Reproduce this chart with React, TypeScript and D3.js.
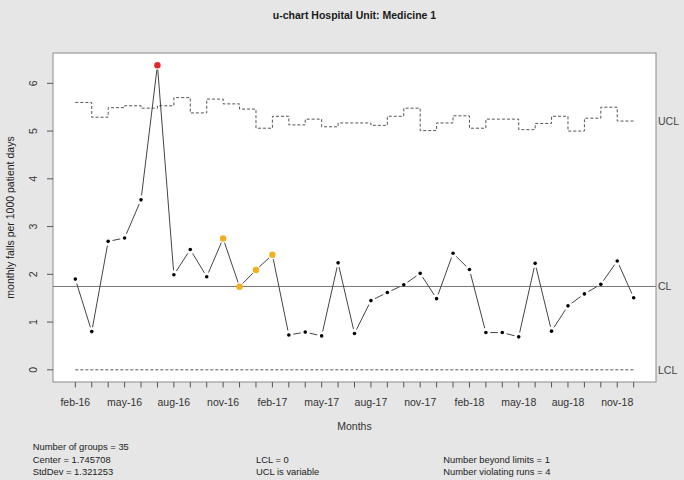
import React from "react";
import * as d3 from "d3";

const months = [
  "feb-16","mar-16","apr-16","may-16","jun-16","jul-16","aug-16","sep-16","oct-16","nov-16","dec-16",
  "jan-17","feb-17","mar-17","apr-17","may-17","jun-17","jul-17","aug-17","sep-17","oct-17","nov-17","dec-17",
  "jan-18","feb-18","mar-18","apr-18","may-18","jun-18","jul-18","aug-18","sep-18","oct-18","nov-18","dec-18",
];
const values = [
  1.90, 0.80, 2.69, 2.76, 3.56, 6.38, 1.99, 2.52, 1.95, 2.75, 1.74,
  2.09, 2.41, 0.73, 0.79, 0.71, 2.24, 0.76, 1.45, 1.62, 1.78, 2.02, 1.49,
  2.44, 2.10, 0.78, 0.78, 0.69, 2.23, 0.81, 1.34, 1.59, 1.79, 2.28, 1.51,
];
const ucl = [
  5.60, 5.29, 5.49, 5.53, 5.48, 5.53, 5.70, 5.38, 5.67, 5.57, 5.46,
  5.06, 5.31, 5.13, 5.25, 5.09, 5.17, 5.17, 5.12, 5.31, 5.48, 5.01, 5.17,
  5.32, 5.06, 5.25, 5.25, 5.03, 5.16, 5.31, 5.00, 5.27, 5.50, 5.21, 5.21,
];
// 0 = normal, 1 = beyond limits, 2 = violating run
const status = [
  0, 0, 0, 0, 0, 1, 0, 0, 0, 2, 2,
  2, 2, 0, 0, 0, 0, 0, 0, 0, 0, 0, 0,
  0, 0, 0, 0, 0, 0, 0, 0, 0, 0, 0, 0,
];
const center = 1.745708;
const lcl = 0;
const yTicks = [0, 1, 2, 3, 4, 5, 6];
const statsLeft = ["Number of groups = 35", "Center = 1.745708", "StdDev = 1.321253"];
const statsMid = ["LCL = 0", "UCL is variable"];
const statsRight = ["Number beyond limits = 1", "Number violating runs = 4"];

const W = 684, H = 480;
const L = 53, R = 656, T = 53, B = 382;
const FONT = "Liberation Sans, Arial, sans-serif";

export default function App() {
  const n = values.length;
  const idx = d3.range(1, n + 1);
  const xPad = 0.04 * (n - 1);
  const x = d3.scaleLinear().domain([1 - xPad, n + xPad]).range([L, R]);
  const yMax = d3.max(values)!;
  const yPad = 0.04 * (yMax - lcl);
  const y = d3.scaleLinear().domain([lcl - yPad, yMax + yPad]).range([B, T]);

  const uclLine = d3
    .line<number>()
    .x((_, i) => x(idx[i]))
    .y((d) => y(d))
    .curve(d3.curveStepAfter)(ucl)!;

  const gap = 4.5;
  const segs: { x1: number; y1: number; x2: number; y2: number }[] = [];
  for (let i = 0; i < n - 1; i++) {
    const ax = x(idx[i]), ay = y(values[i]);
    const bx = x(idx[i + 1]), by = y(values[i + 1]);
    const len = Math.hypot(bx - ax, by - ay);
    if (len <= 2 * gap) continue;
    const ux = (bx - ax) / len, uy = (by - ay) / len;
    segs.push({ x1: ax + ux * gap, y1: ay + uy * gap, x2: bx - ux * gap, y2: by - uy * gap });
  }

  const colorFor = (s: number) => (s === 1 ? "#e3262a" : s === 2 ? "#f2b01f" : "#000");
  const rFor = (s: number) => (s === 0 ? 1.8 : 3.2);

  const statY = [446.7, 459.3, 471.7];

  return (
    <svg width={W} height={H} style={{ position: "absolute", left: 0, top: 0 }} fontFamily={FONT}>
      <rect x={0} y={0} width={W} height={H} fill="#e6e6e6" />
      <rect x={L} y={T} width={R - L} height={B - T} fill="#fff" stroke="#8a8a8a" strokeWidth={1} />

      <text x={(L + R) / 2} y={15} textAnchor="middle" dominantBaseline="central" fontWeight="bold" fontSize={10.5} fill="#1a1a1a">
        u-chart Hospital Unit: Medicine 1
      </text>

      {/* y axis */}
      {yTicks.map((t) => (
        <g key={t}>
          <line x1={L - 6} x2={L} y1={y(t)} y2={y(t)} stroke="#555" />
          <text
            transform={`translate(${33},${y(t)}) rotate(-90)`}
            textAnchor="middle"
            dominantBaseline="central"
            fontSize={10.5}
            fill="#333"
          >
            {t}
          </text>
        </g>
      ))}
      <text transform={`translate(10,${(T + B) / 2}) rotate(-90)`} textAnchor="middle" dominantBaseline="central" fontSize={10.5} fill="#222">
        monthly falls per 1000 patient days
      </text>

      {/* x axis */}
      {idx.map((i) => (
        <line key={i} x1={x(i)} x2={x(i)} y1={B} y2={B + 5.5} stroke="#555" />
      ))}
      {months.map((m, i) =>
        i % 3 === 0 ? (
          <text key={m} x={x(idx[i])} y={401.7} textAnchor="middle" dominantBaseline="central" fontSize={10.5} fill="#333">
            {m}
          </text>
        ) : null
      )}
      <text x={(L + R) / 2} y={425.7} textAnchor="middle" dominantBaseline="central" fontSize={10.5} fill="#333">
        Months
      </text>

      {/* limits */}
      <line x1={L} x2={R} y1={y(center)} y2={y(center)} stroke="#777" strokeWidth={1} />
      <path d={uclLine} fill="none" stroke="#555" strokeWidth={1} strokeDasharray="3,2" />
      <line x1={x(1)} x2={x(n)} y1={y(lcl)} y2={y(lcl)} stroke="#555" strokeWidth={1} strokeDasharray="3,2" />
      <text x={658} y={y(ucl[n - 1])} dominantBaseline="central" fontSize={10.5} fill="#444">UCL</text>
      <text x={658} y={y(center)} dominantBaseline="central" fontSize={10.5} fill="#444">CL</text>
      <text x={658} y={y(lcl)} dominantBaseline="central" fontSize={10.5} fill="#444">LCL</text>

      {/* data */}
      {segs.map((s, i) => (
        <line key={i} x1={s.x1} y1={s.y1} x2={s.x2} y2={s.y2} stroke="#444" strokeWidth={1} />
      ))}
      {values.map((v, i) => (
        <circle key={i} cx={x(idx[i])} cy={y(v)} r={rFor(status[i])} fill={colorFor(status[i])} />
      ))}

      {/* stats */}
      {statsLeft.map((s, i) => (
        <text key={s} x={32.7} y={statY[i]} dominantBaseline="central" fontSize={9.4} fill="#222">{s}</text>
      ))}
      {statsMid.map((s, i) => (
        <text key={s} x={256} y={statY[i + 1]} dominantBaseline="central" fontSize={9.4} fill="#222">{s}</text>
      ))}
      {statsRight.map((s, i) => (
        <text key={s} x={443.3} y={statY[i + 1]} dominantBaseline="central" fontSize={9.4} fill="#222">{s}</text>
      ))}
    </svg>
  );
}
